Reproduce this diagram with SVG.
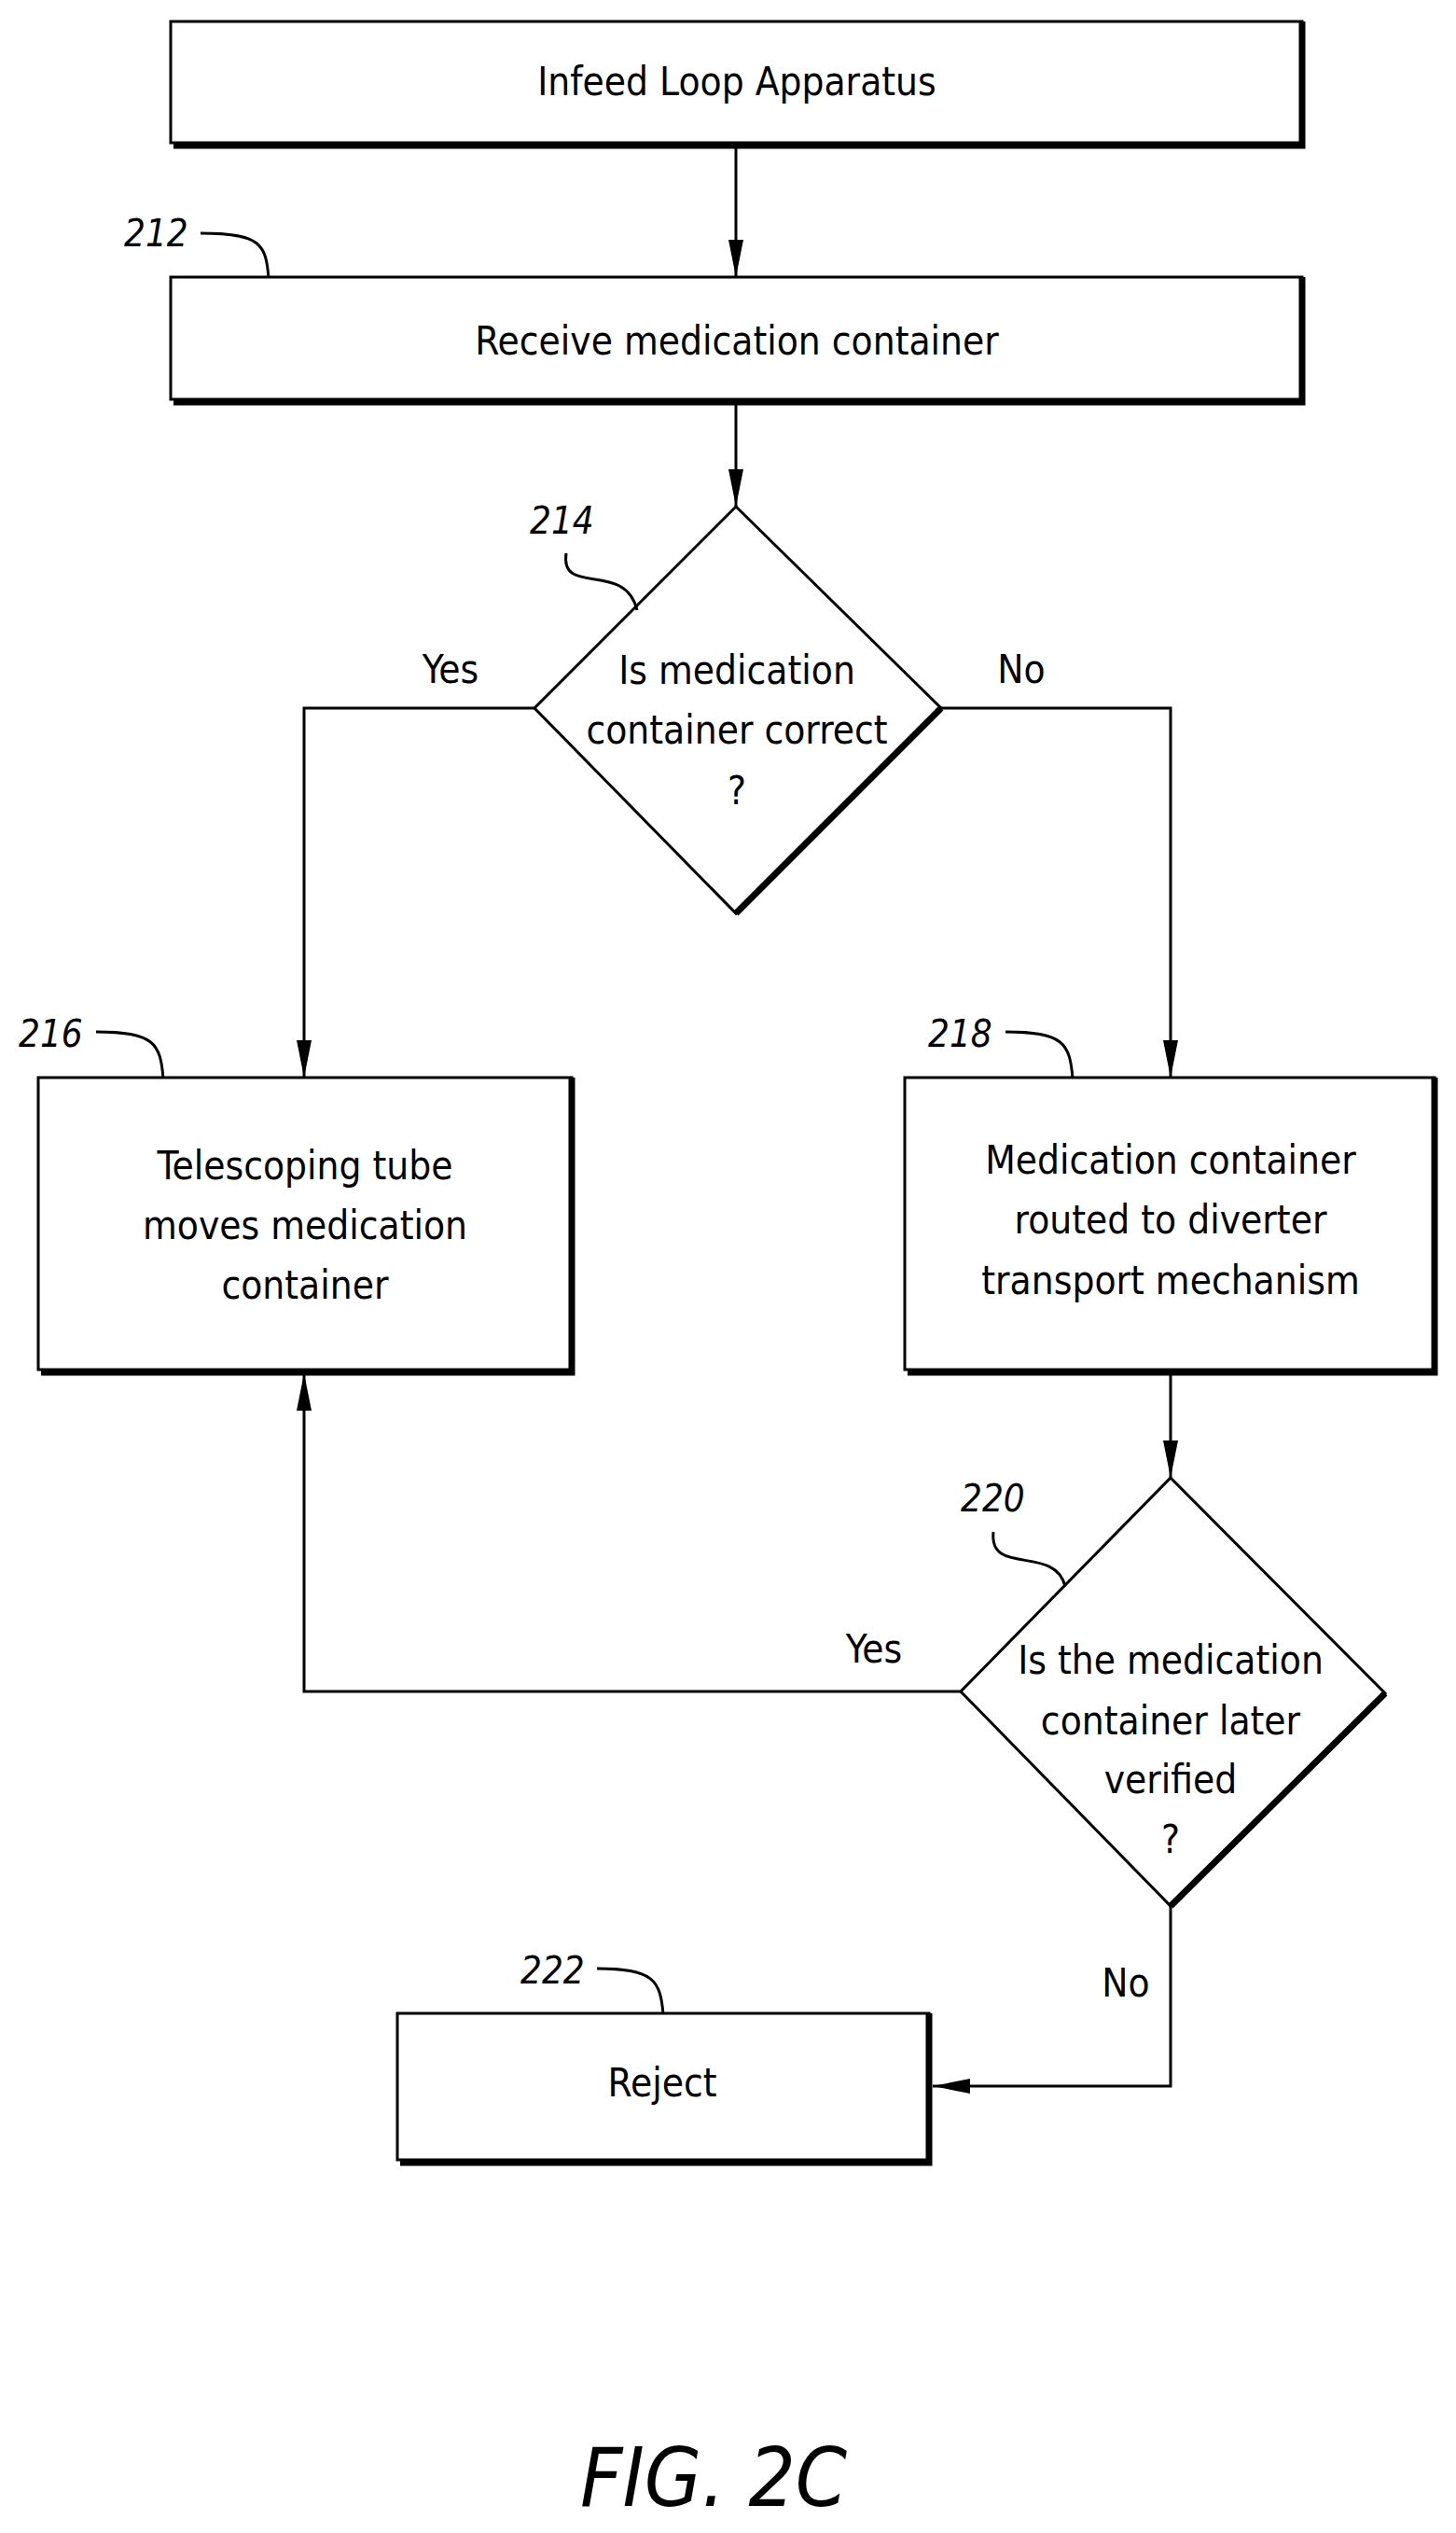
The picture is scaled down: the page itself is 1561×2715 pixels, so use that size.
<svg xmlns="http://www.w3.org/2000/svg" width="1561" height="2715" viewBox="0 0 1561 2715">
<style>
.b{fill:#fff;stroke:#000;stroke-width:3}
.s{fill:none;stroke:#000;stroke-width:7}
.l{fill:none;stroke:#000;stroke-width:3}
.t{font-family:"DejaVu Sans Condensed","DejaVu Sans",sans-serif;font-stretch:condensed;font-size:42px;text-anchor:middle;fill:#000}
.r{font-family:"DejaVu Sans Condensed","DejaVu Sans",sans-serif;font-stretch:condensed;font-style:italic;font-size:40px;fill:#000}
</style>
<defs>
<marker id="a" markerWidth="40" markerHeight="16" refX="40" refY="8" orient="auto" markerUnits="userSpaceOnUse"><path d="M0,0 L40,8 L0,16 Z" fill="#000"/></marker>
</defs>
<rect width="1561" height="2715" fill="#fff"/>
<g id="connectors">
<path class="l" d="M789,155 V297" marker-end="url(#a)"/>
<path class="l" d="M789,431 V543" marker-end="url(#a)"/>
<path class="l" d="M573,759 H326 V1155" marker-end="url(#a)"/>
<path class="l" d="M1009,759 H1255 V1155" marker-end="url(#a)"/>
<path class="l" d="M1255,1472 V1584" marker-end="url(#a)"/>
<path class="l" d="M1030,1813 H326 V1472" marker-end="url(#a)"/>
<path class="l" d="M1255,2043 V2236 H1000" marker-end="url(#a)"/>
<text class="t" x="483" y="732">Yes</text>
<text class="t" x="1095" y="732">No</text>
<text class="t" x="937" y="1782">Yes</text>
<text class="t" x="1207" y="2140">No</text>
</g>
<g id="n1">
<rect class="b" x="183" y="23" width="1213" height="130"/>
<path class="s" d="M1396,23 V156 H186"/>
<text class="t" x="790" y="102">Infeed Loop Apparatus</text>
</g>
<g id="n212">
<rect class="b" x="183" y="297" width="1213" height="131"/>
<path class="s" d="M1396,297 V431 H186"/>
<text class="t" x="790" y="380">Receive medication container</text>
<text class="r" x="133" y="264">212</text>
<path class="l" d="M215,250 C280,250 285,262 288,298"/>
</g>
<g id="n214">
<path class="b" d="M789,543 L1009,759 L789,979 L573,759 Z"/>
<path class="s" d="M1009,759 L789,979"/>
<text class="t" x="790" y="733">Is medication</text>
<text class="t" x="790" y="797">container correct</text>
<text class="t" x="790" y="862">?</text>
<text class="r" x="568" y="572">214</text>
<path class="l" d="M607,593 C600,640 670,600 683,654"/>
</g>
<g id="n216">
<rect class="b" x="41" y="1155" width="572" height="313"/>
<path class="s" d="M613,1155 V1471 H44"/>
<text class="t" x="327" y="1264">Telescoping tube</text>
<text class="t" x="327" y="1328">moves medication</text>
<text class="t" x="327" y="1392">container</text>
<text class="r" x="20" y="1122">216</text>
<path class="l" d="M103,1106 C165,1106 172,1118 175,1156"/>
</g>
<g id="n218">
<rect class="b" x="970" y="1155" width="568" height="313"/>
<path class="s" d="M1538,1155 V1471 H973"/>
<text class="t" x="1255" y="1258">Medication container</text>
<text class="t" x="1255" y="1322">routed to diverter</text>
<text class="t" x="1255" y="1387">transport mechanism</text>
<text class="r" x="995" y="1122">218</text>
<path class="l" d="M1078,1106 C1140,1106 1147,1118 1150,1156"/>
</g>
<g id="n220">
<path class="b" d="M1255,1584 L1485,1815 L1255,2043 L1030,1813 Z"/>
<path class="s" d="M1485,1815 L1255,2043"/>
<text class="t" x="1255" y="1794">Is the medication</text>
<text class="t" x="1255" y="1859">container later</text>
<text class="t" x="1255" y="1922">verified</text>
<text class="t" x="1255" y="1986">?</text>
<text class="r" x="1030" y="1620">220</text>
<path class="l" d="M1065,1642 C1060,1690 1130,1655 1142,1700"/>
</g>
<g id="n222">
<rect class="b" x="426" y="2158" width="570" height="157"/>
<path class="s" d="M996,2158 V2318 H429"/>
<text class="t" x="710" y="2247">Reject</text>
<text class="r" x="558" y="2126">222</text>
<path class="l" d="M640,2110 C700,2110 708,2122 711,2159"/>
</g>
<text class="r" x="765" y="2686" style="font-size:88px;text-anchor:middle">FIG. 2C</text>
</svg>
